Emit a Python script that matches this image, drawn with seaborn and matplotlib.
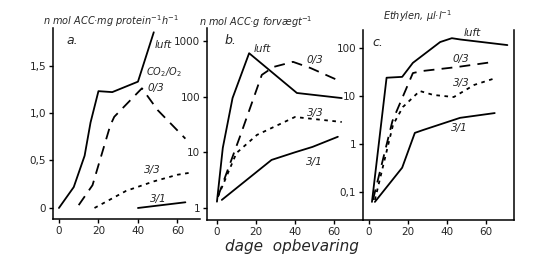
import numpy as np
import pandas as pd
import matplotlib
matplotlib.use("Agg")
import matplotlib.pyplot as plt
import seaborn as sns

sns.set_theme(style="white")
plt.rcParams['font.family'] = ['DejaVu Sans']

# ---- data ----
a_luft_x = [0, 7.5, 13, 16, 20, 27, 40, 48]
a_luft_y = [0.0, 0.22, 0.55, 0.9, 1.23, 1.22, 1.33, 1.85]
a_03_x = [10, 17, 26, 28, 42, 50, 64]
a_03_y = [0.03, 0.24, 0.87, 0.96, 1.26, 1.03, 0.73]
a_33_x = [18, 34, 48, 60, 66]
a_33_y = [0.0, 0.18, 0.28, 0.35, 0.37]
a_31_x = [40, 64]
a_31_y = [0.0, 0.06]

b_luft_x = [0, 3, 8, 16.5, 41, 64]
b_luft_y = [1.3, 12, 94, 600, 116, 94]
b_03_x = [0.5, 12, 23, 29, 39, 48, 64]
b_03_y = [1.6, 20, 245, 340, 420, 325, 183]
b_33_x = [0.5, 10, 20.5, 40, 64]
b_33_y = [1.6, 9.7, 20.5, 43, 35]
b_31_x = [2.5, 28, 40, 49, 62]
b_31_y = [1.4, 7.3, 10, 12.5, 19]

c_luft_x = [1.5, 9, 17, 22.5, 36.5, 42.5, 47, 71]
c_luft_y = [0.062, 24, 25, 49, 133, 160, 150, 115]
c_03_x = [2, 12, 22.5, 27, 45, 63.5]
c_03_y = [0.068, 3, 30, 33, 40, 51]
c_33_x = [3, 12.3, 17.4, 26, 33, 43.5, 54, 65.5]
c_33_y = [0.068, 2.5, 5.9, 12.7, 10.5, 9.5, 17, 24]
c_31_x = [3, 17, 23.5, 27.7, 46.7, 64.5]
c_31_y = [0.062, 0.32, 1.7, 1.95, 3.5, 4.4]

series_names = ["luft", "0/3", "3/3", "3/1"]
x_ticks = [0, 20, 40, 60]
x_ticklabels = ["0", "20", "40", "60"]
a_yticks = [0, 0.5, 1.0, 1.5]
a_yticklabels = ["0", "0,5", "1,0", "1,5"]
b_yticks = [1, 10, 100, 1000]
b_yticklabels = ["1", "10", "100", "1000"]
c_yticks = [0.1, 1, 10, 100]
c_yticklabels = ["0,1", "1", "10", "100"]


def make_df(xs, ys):
    rows = []
    for name, x, y in zip(series_names, xs, ys):
        for xi, yi in zip(x, y):
            rows.append({"dag": xi, "v": yi, "serie": name})
    return pd.DataFrame(rows)


dfA = make_df([a_luft_x, a_03_x, a_33_x, a_31_x], [a_luft_y, a_03_y, a_33_y, a_31_y])
dfB = make_df([b_luft_x, b_03_x, b_33_x, b_31_x], [b_luft_y, b_03_y, b_33_y, b_31_y])
dfC = make_df([c_luft_x, c_03_x, c_33_x, c_31_x], [c_luft_y, c_03_y, c_33_y, c_31_y])

W, H = 549, 258
fig = plt.figure(figsize=(W / 100, H / 100), dpi=100)


def rect(l, r, t, b):
    return [l / W, 1 - b / H, (r - l) / W, (b - t) / H]


axA = fig.add_axes(rect(53, 200, 28, 219))
axB = fig.add_axes(rect(207, 363, 28, 220))
axC = fig.add_axes(rect(363, 514, 30, 220))

dashes = {"luft": "", "0/3": (6, 4), "3/3": (2, 2.5), "3/1": ""}
pal = {n: "black" for n in series_names}

for ax, df in [(axA, dfA), (axB, dfB), (axC, dfC)]:
    sns.lineplot(data=df, x="dag", y="v", hue="serie", style="serie",
                 palette=pal, dashes=dashes, estimator=None, sort=False,
                 units="serie", legend=False, lw=1.3, ax=ax)
    ax.set_xlabel("")
    ax.set_ylabel("")
    ax.set_facecolor("none")
    ax.set_xticks(x_ticks)
    ax.set_xticklabels(x_ticklabels)
    ax.tick_params(axis="both", which="major", length=3, width=1, color="black",
                   labelsize=7.5, pad=2, bottom=True, left=True)
    ax.tick_params(axis="y", which="minor", left=False, right=False)
    for s in ax.spines.values():
        s.set_color("black")
        s.set_linewidth(1.1)

axA.set_xlim(-3, 71.4)
axA.set_ylim(-0.116, 1.895)
axA.set_yticks(a_yticks)
axA.set_yticklabels(a_yticklabels)
axA.spines["top"].set_visible(False)
axA.spines["right"].set_visible(False)

axB.set_yscale("log")
axB.set_xlim(-5.1, 74.9)
axB.set_ylim(0.61, 1700)
axB.set_yticks(b_yticks)
axB.set_yticklabels(b_yticklabels)
axB.minorticks_off()
axB.spines["top"].set_visible(False)
axB.spines["right"].set_visible(False)

axC.set_yscale("log")
axC.set_xlim(-3.1, 74.4)
axC.set_ylim(0.026, 237)
axC.set_yticks(c_yticks)
axC.set_yticklabels(c_yticklabels)
axC.minorticks_off()
axC.spines["top"].set_visible(False)


def ftext(x, y, s, size=7.5, **kw):
    fig.text(x / W, 1 - y / H, s, fontsize=size, ha=kw.pop("ha", "center"),
             va=kw.pop("va", "center"), style=kw.pop("style", "italic"), **kw)


# panel titles
ftext(111, 21, "n mol ACC·mg protein$^{-1}$h$^{-1}$", size=7)
ftext(256, 22, "n mol ACC·g forvægt$^{-1}$", size=7)
ftext(418, 16, "Ethylen, µl·l$^{-1}$", size=7)
# panel letters
ftext(72, 40, "a.", size=9)
ftext(230, 40, "b.", size=9)
ftext(378, 43, "c.", size=9)
# curve labels panel A
ftext(163, 45, "luft")
ftext(164, 72, "CO$_2$/O$_2$", size=7)
ftext(156, 88, "0/3")
ftext(152, 170, "3/3")
ftext(158, 199, "3/1")
# panel B
ftext(262, 49, "luft")
ftext(315, 60, "0/3")
ftext(315, 113, "3/3")
ftext(314, 162, "3/1")
# panel C
ftext(472, 33, "luft")
ftext(461, 59, "0/3")
ftext(461, 83, "3/3")
ftext(459, 128, "3/1")
# x label
ftext(292, 247, "dage  opbevaring", size=11)

fig.savefig("out.png", dpi=100)
